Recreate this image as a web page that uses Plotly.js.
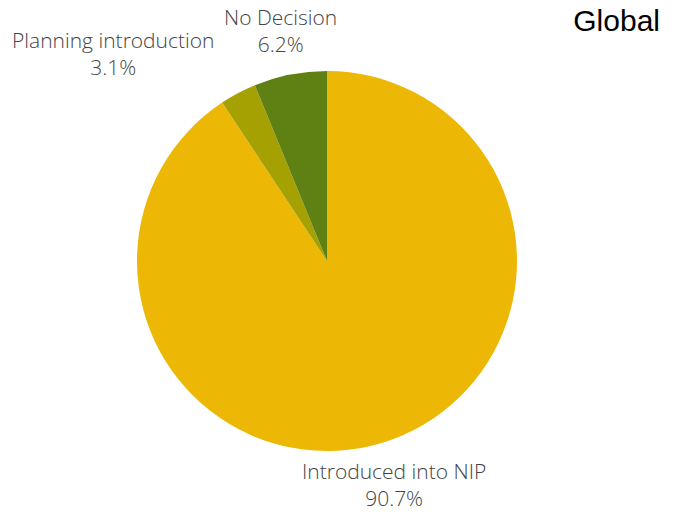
<!DOCTYPE html>
<html>
<head>
<meta charset="utf-8">
<script src="https://cdn.plot.ly/plotly-3.0.1.min.js"></script>
<style>html,body{margin:0;padding:0;background:#fff;}#chart{width:678px;height:514px;}</style>
</head>
<body>
<div id="chart"></div>
<script>
const categories = ["Introduced into NIP", "Planning introduction", "No Decision"];
const values = [90.7, 3.1, 6.2];
const colors = ["#ECB805", "#A6A102", "#5F8113"];
const chartTitle = "Global";

const W = 678, H = 514, cx = 327, cy = 261, r = 190;
// label centre positions in pixels (layout only)
const labelPos = [[394, 484.5], [113, 53.5], [280, 30.5]];

const total = values.reduce((a, b) => a + b, 0);
const fmtPct = v => {
  let s = (v / total * 100).toPrecision(3);
  if (s.indexOf(".") >= 0) s = s.replace(/0+$/, "").replace(/\.$/, "");
  return s + "%";
};

const annotations = categories.map((c, i) => ({
  text: c + "<br>" + fmtPct(values[i]),
  x: labelPos[i][0] / W, y: 1 - labelPos[i][1] / H,
  xref: "paper", yref: "paper",
  xanchor: "center", yanchor: "middle",
  showarrow: false,
  font: {family: "Open Sans", size: 21, weight: 300, color: "#444444"}
}));

Plotly.newPlot("chart", [{
  type: "pie",
  labels: categories,
  values: values,
  sort: false,
  direction: "clockwise",
  rotation: 0,
  marker: {colors: colors, line: {width: 0}},
  textinfo: "none",
  hoverinfo: "none",
  domain: {x: [(cx - r) / W, (cx + r) / W], y: [(H - cy - r) / H, (H - cy + r) / H]}
}], {
  width: W, height: H,
  margin: {l: 0, r: 0, t: 0, b: 0},
  showlegend: false,
  paper_bgcolor: "#ffffff",
  annotations: annotations,
  title: {
    text: chartTitle,
    font: {family: "Liberation Sans, Arial", size: 30, color: "#000000"},
    x: 660 / W, xanchor: "right", xref: "paper",
    y: 1 - 10 / H, yanchor: "top", yref: "container"
  }
}, {staticPlot: true});
</script>
</body>
</html>
